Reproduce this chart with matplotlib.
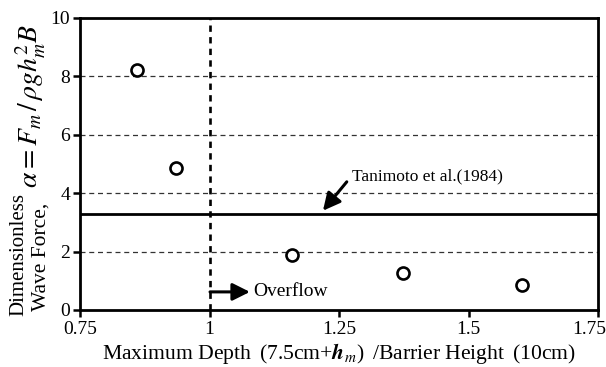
import matplotlib
matplotlib.use("Agg")
import matplotlib.pyplot as plt
from matplotlib.transforms import ScaledTranslation

plt.rcParams['font.family'] = ['Liberation Serif', 'DejaVu Serif']
plt.rcParams['mathtext.fontset'] = 'stix'

# Measured points: relative depth vs dimensionless wave force
depth_ratio = [0.860, 0.935, 1.159, 1.373, 1.603]
wave_force = [8.22, 4.86, 1.88, 1.26, 0.86]
tanimoto_alpha = 3.3
overflow_x = 1.0

x_ticks = [0.75, 1.0, 1.25, 1.5, 1.75]
x_tick_labels = ['0.75', '1', '1.25', '1.5', '1.75']
y_ticks = [0, 2, 4, 6, 8, 10]
grid_levels = [2, 4, 6, 8]

fig = plt.figure(figsize=(6.06, 3.67), dpi=100)
ax = fig.add_axes([80 / 606, 57 / 367, 518 / 606, 292 / 367])

for g in grid_levels:
    ax.axhline(g, color='#333333', lw=0.9, ls=(0, (4, 3)), zorder=1)
ax.axhline(tanimoto_alpha, color='black', lw=2.0, zorder=2)
ax.axvline(overflow_x, color='black', lw=1.9, ls=(0, (2.4, 2.0)), zorder=2)

ax.scatter(depth_ratio, wave_force, s=75, facecolor='white', edgecolor='black',
           linewidths=1.9, zorder=3)

ax.set_xlim(0.75, 1.75)
ax.set_ylim(0, 10)
ax.set_xticks(x_ticks)
ax.set_xticklabels(x_tick_labels)
ax.set_yticks(y_ticks)
ax.tick_params(direction='out', length=5, width=1.8, labelsize=14)
ax.tick_params(axis='x', pad=3)
ax.tick_params(axis='y', pad=2)
for s in ax.spines.values():
    s.set_linewidth(2.0)

# keep the last x tick label inside the figure
last = ax.get_xticklabels()[-1]
last.set_transform(last.get_transform() + ScaledTranslation(-9 / 100, 0, fig.dpi_scale_trans))

ax.set_xlabel(r'Maximum Depth$\;\;$(7.5cm+$\boldsymbol{h}_{m}$)$\;\;$/Barrier Height$\;\;$(10cm)',
              fontsize=15.6, labelpad=2)

# y-axis label built from three rotated pieces
fig.text(19 / 606, 1 - 254 / 367, 'Dimensionless', rotation=90, fontsize=15,
         ha='center', va='center')
fig.text(41 / 606, 1 - 257 / 367, 'Wave Force,', rotation=90, fontsize=15.5,
         ha='center', va='center')
fig.text(31 / 606, 1 - 106 / 367, r'$\alpha = F_m\,/\,\rho g h_m^2 B$',
         rotation=90, fontsize=20, ha='center', va='center')

arrow_kw = dict(arrowstyle='-|>,head_length=0.7,head_width=0.35', color='black',
                lw=2.2, mutation_scale=15, shrinkA=0, shrinkB=0)

ax.annotate('', xy=(1.219, 3.40), xytext=(1.265, 4.39), arrowprops=arrow_kw)
ax.text(1.275, 4.45, 'Tanimoto et al.(1984)', fontsize=12.5, ha='left', va='baseline')

ax.annotate('', xy=(1.078, 0.62), xytext=(1.001, 0.62), arrowprops=arrow_kw)
ax.text(1.084, 0.62, 'Overflow', fontsize=14, ha='left', va='center')

fig.savefig('out.png', dpi=100)
